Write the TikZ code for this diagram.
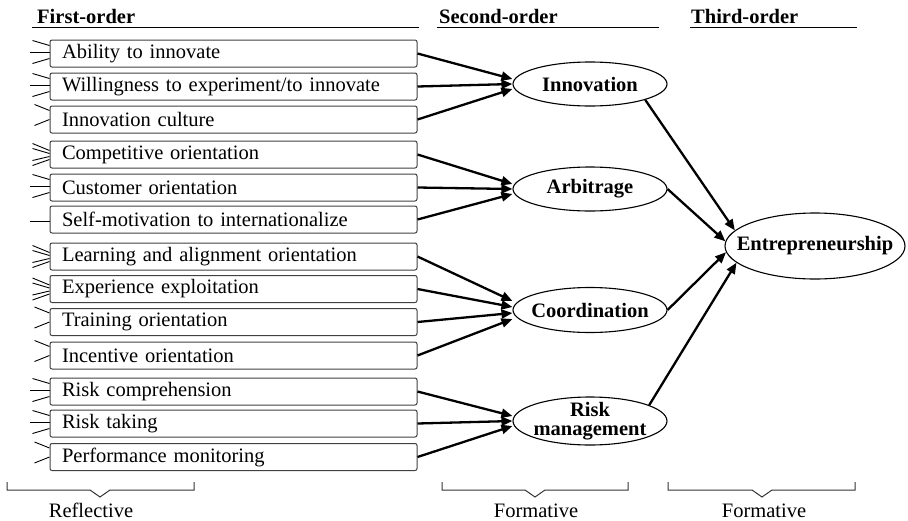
\documentclass[tikz,border=0pt]{standalone}
\usepackage{fontspec}
\setmainfont{Liberation Serif}
\usetikzlibrary{arrows.meta,shapes.geometric,calc}
\begin{document}
\begin{tikzpicture}[x=1pt,y=-1pt,
 box/.style={draw=black!75, line width=1pt, rounded corners=2pt, minimum width=367pt, minimum height=27pt, text width=343pt, align=left, inner xsep=12pt, inner ysep=0pt, font=\fontsize{20.5}{22}\selectfont},
 ell/.style={draw, ellipse, line width=1.1pt, inner sep=0pt},
 etext/.style={font=\fontsize{20.5}{19.5}\selectfont\bfseries, align=center, inner sep=0pt},
 arr/.style={line width=2.3pt, -{Triangle[length=11pt,width=9pt]}},
 ind/.style={line width=0.9pt},
 hdr/.style={font=\fontsize{20.5}{22}\selectfont\bfseries, anchor=base west, inner sep=0pt},
 lbl/.style={font=\fontsize{20.5}{22}\selectfont, anchor=base, inner sep=0pt},
 rulel/.style={line width=1pt},
 brk/.style={line width=1pt, draw=black!80}
]
\path[use as bounding box] (0,0) rectangle (908,520);

% headers
\node[hdr] (h1) at (37,23) {First-order};
\node[hdr] (h2) at (439,23) {Second-order};
\node[hdr] (h3) at (691,23) {Third-order};
\draw[rulel] (32,27) -- (419,27);
\draw[rulel] (437,27) -- (659,27);
\draw[rulel] (690,27) -- (857,27);

% first-order boxes
\node[box] (b1) at (233.5,53.5) {Ability to innovate};
\node[box] (b2) at (233.5,86.5) {Willingness to experiment/to innovate};
\node[box] (b3) at (233.5,119.5) {Innovation culture};
\node[box] (b4) at (233.5,154.5) {Competitive orientation};
\node[box] (b5) at (233.5,187.5) {Customer orientation};
\node[box] (b6) at (233.5,219.5) {Self-motivation to internationalize};
\node[box] (b7) at (233.5,256.5) {Learning and alignment orientation};
\node[box] (b8) at (233.5,289) {Experience exploitation};
\node[box] (b9) at (233.5,322) {Training orientation};
\node[box] (b10) at (233.5,355.5) {Incentive orientation};
\node[box] (b11) at (233.5,391.5) {Risk comprehension};
\node[box] (b12) at (233.5,423.5) {Risk taking};
\node[box] (b13) at (233.5,457) {Performance monitoring};

% indicator lines
\foreach \b in {b1,b2,b5,b11,b12}{
  \draw[ind] ($(\b.west)+(-17,-13)$) -- ($(\b.west)+(0,-8)$);
  \draw[ind] ($(\b.west)+(-20,-1)$) -- ($(\b.west)+(0,-1)$);
  \draw[ind] ($(\b.west)+(-17,10)$) -- ($(\b.west)+(0,5)$);
}
\foreach \b in {b3,b9,b10,b13}{
  \draw[ind] ($(\b.west)+(-15,-15)$) -- ($(\b.west)+(0,-9)$);
  \draw[ind] ($(\b.west)+(-15,6)$) -- ($(\b.west)+(0,0)$);
}
\foreach \b in {b4,b7,b8}{
  \draw[ind] ($(\b.west)+(-17,-11)$) -- ($(\b.west)+(0,-4)$);
  \draw[ind] ($(\b.west)+(-17,-6)$) -- ($(\b.west)+(0,-1)$);
  \draw[ind] ($(\b.west)+(-17,6)$) -- ($(\b.west)+(0,2)$);
  \draw[ind] ($(\b.west)+(-17,11)$) -- ($(\b.west)+(0,5)$);
}
\draw[ind] ($(b6.west)+(-20,2)$) -- ($(b6.west)+(0,2)$);

% second-order ellipses
\node[ell, minimum width=154pt, minimum height=44pt] (inn) at (590,84) {};
\node[ell, minimum width=154pt, minimum height=44pt] (arb) at (590,189) {};
\node[ell, minimum width=154pt, minimum height=45pt] (coo) at (590,310) {};
\node[ell, minimum width=154pt, minimum height=48pt] (rsk) at (590,421) {};
\node[etext] (innT) at (inn.center) {Innovation};
\node[etext] (arbT) at (arb.center) {Arbitrage};
\node[etext] (cooT) at (coo.center) {Coordination};
\node[etext] (rskT) at (rsk.center) {Risk\\management};

% third-order ellipse
\node[ell, minimum width=180pt, minimum height=66pt] (ent) at (815,246) {};
\node[etext] (entT) at (ent.center) {Entrepreneurship};

% arrows first -> second
\draw[arr] (b1.east) -- ($(inn.west)+(0,-5)$);
\draw[arr] (b2.east) -- (inn.west);
\draw[arr] (b3.east) -- ($(inn.west)+(0,5)$);
\draw[arr] (b4.east) -- ($(arb.west)+(0,-5)$);
\draw[arr] (b5.east) -- (arb.west);
\draw[arr] (b6.east) -- ($(arb.west)+(0,5)$);
\draw[arr] (b7.east) -- ($(coo.west)+(0,-9)$);
\draw[arr] (b8.east) -- ($(coo.west)+(0,-3)$);
\draw[arr] (b9.east) -- ($(coo.west)+(0,3)$);
\draw[arr] (b10.east) -- ($(coo.west)+(0,9)$);
\draw[arr] (b11.east) -- ($(rsk.west)+(0,-5)$);
\draw[arr] (b12.east) -- (rsk.west);
\draw[arr] (b13.east) -- ($(rsk.west)+(0,5)$);

% arrows second -> third
\draw[arr] (inn.-16) -- (ent.169);
\draw[arr] (arb.east) -- (ent.177);
\draw[arr] (coo.east) -- (ent.184);
\draw[arr] (rsk.15) -- (ent.192);

% brackets
\draw[brk] (7,482) -- (7,490) -- (90,490) -- (100,497) -- (110,490) -- (194,490) -- (194,482);
\draw[brk] (442,482) -- (442,490) -- (525,490) -- (535,497) -- (545,490) -- (628,490) -- (628,482);
\draw[brk] (668,482) -- (668,490) -- (752,490) -- (762,497) -- (772,490) -- (855,490) -- (855,482);
\node[lbl] (l1) at (91,517) {Reflective};
\node[lbl] (l2) at (536,517) {Formative};
\node[lbl] (l3) at (764,517) {Formative};
\end{tikzpicture}
\end{document}
